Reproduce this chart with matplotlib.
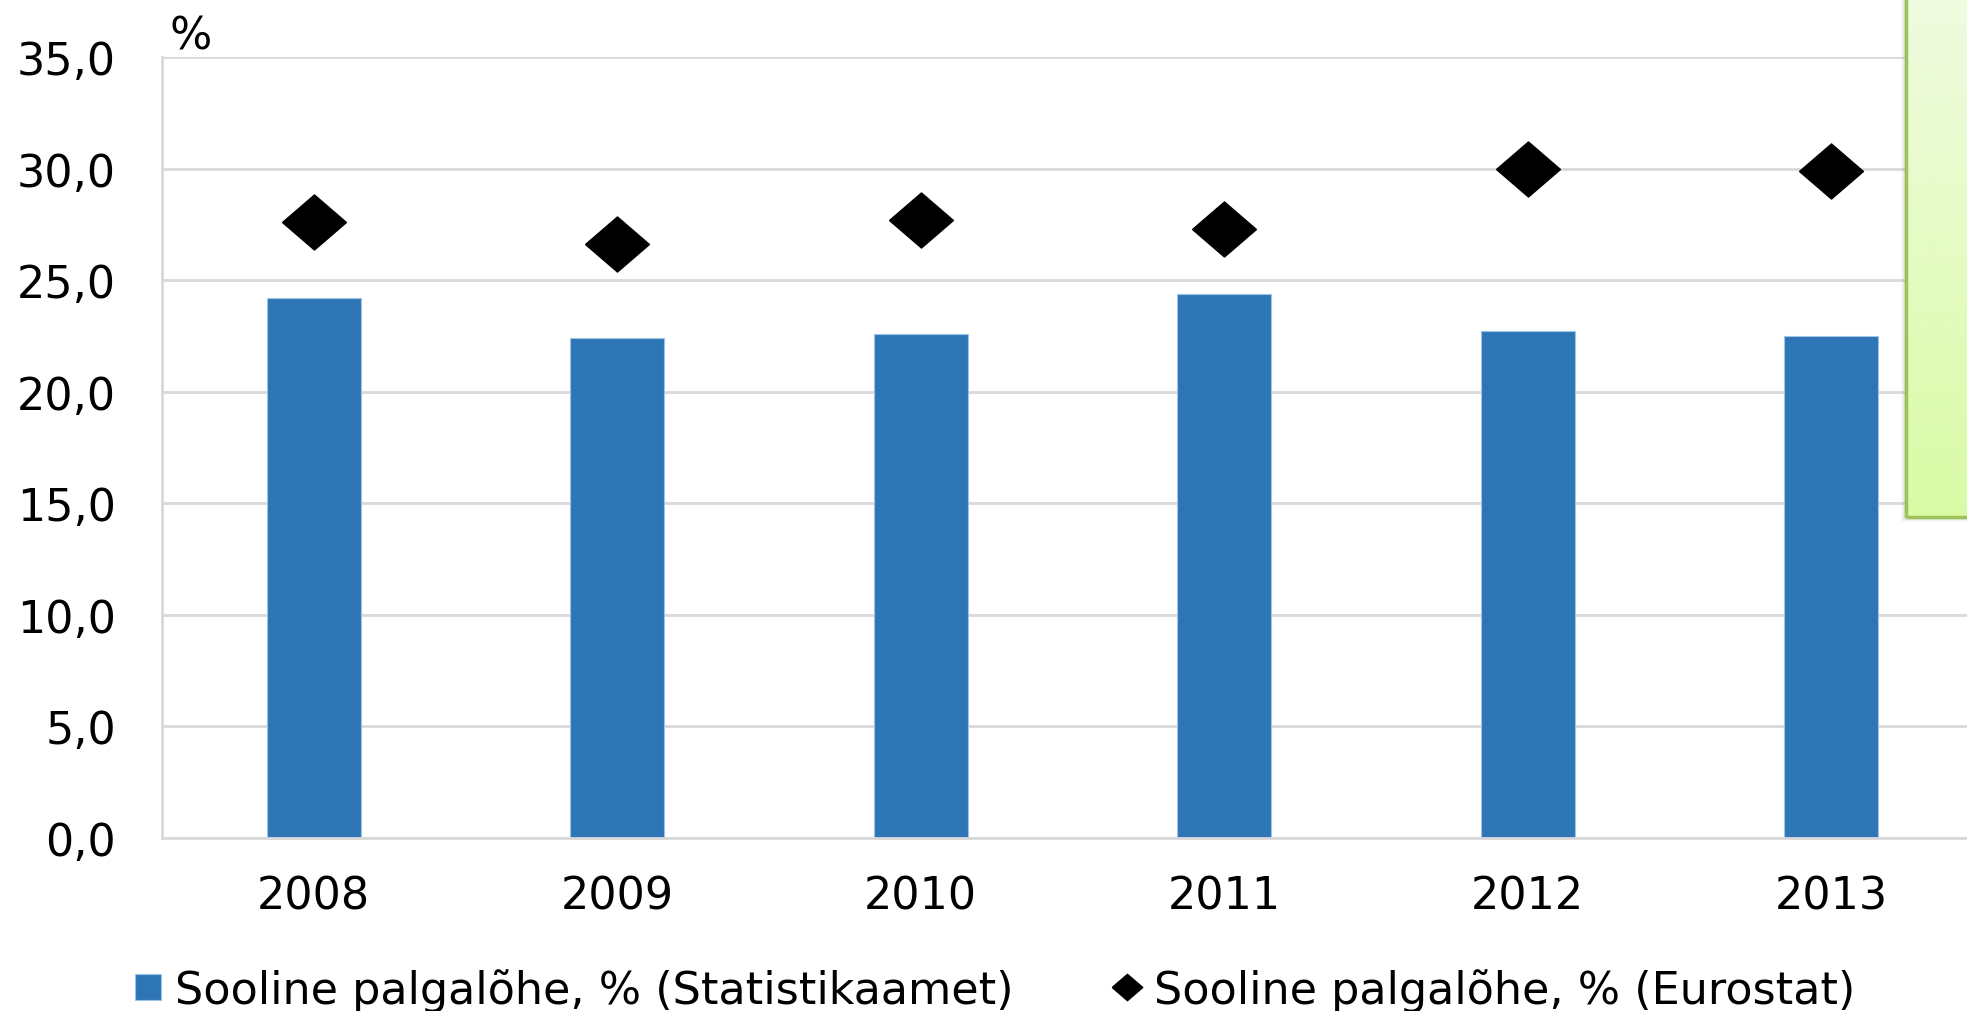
import numpy as np
import matplotlib.pyplot as plt
from matplotlib.lines import Line2D
from matplotlib.patches import Patch, Rectangle
from matplotlib.colors import LinearSegmentedColormap

# Data
years = ['2008', '2009', '2010', '2011', '2012', '2013']
statistikaamet = [24.2, 22.4, 22.6, 24.4, 22.7, 22.5]
eurostat = [27.6, 26.6, 27.7, 27.3, 30.0, 29.9]
y_ticks = [0, 5, 10, 15, 20, 25, 30, 35]

label_bar = 'Sooline palgalõhe, % (Statistikaamet)'
label_dot = 'Sooline palgalõhe, % (Eurostat)'

W, H = 1967, 1012
BLUE = '#2e75b6'
GRID = '#d9d9d9'
FS = 32

plt.rcParams['font.family'] = ['DejaVu Sans']

fig = plt.figure(figsize=(W / 100, H / 100), dpi=100)
fig.patch.set_facecolor('white')

# plot area, runs past the right edge of the picture like the original
left, right, top, bottom = 162, 1983, 58, 839
ax = fig.add_axes([left / W, (H - bottom) / H, (right - left) / W, (bottom - top) / H])

x = np.arange(len(years))
ax.bar(x, statistikaamet, width=0.31, color=BLUE, edgecolor='#9dc3e6', linewidth=0.8, zorder=2)

# diamond a bit wider than tall
diamond = [(-1.16, 0), (0, 1), (1.16, 0), (0, -1), (-1.16, 0)]
ax.plot(x, eurostat, linestyle='none', marker=diamond, markersize=46, color='black', zorder=3)

ax.set_xlim(-0.5, len(years) - 0.5)
ax.set_ylim(0, 35)
ax.set_yticks(y_ticks)
ax.set_yticklabels([f'{v:.1f}'.replace('.', ',') for v in y_ticks])
ax.set_xticks(x)
ax.set_xticklabels(years)
ax.tick_params(axis='y', length=0, pad=33, labelsize=FS, labelcolor='black')
ax.tick_params(axis='x', length=0, pad=26, labelsize=FS, labelcolor='black')

ax.set_axisbelow(True)
ax.grid(axis='y', color=GRID, linewidth=2)
for side in ['top', 'right']:
    ax.spines[side].set_visible(False)
for side in ['left', 'bottom']:
    ax.spines[side].set_color(GRID)
    ax.spines[side].set_linewidth(2)

fig.text(169 / W, (H - 50) / H, '%', fontsize=FS, va='baseline', ha='left')

# legend
handles = [
    Line2D([], [], linestyle='none', marker='s', markersize=18.5, color=BLUE,
           markeredgecolor='#9dc3e6', markeredgewidth=0.8),
    Line2D([], [], linestyle='none', marker=diamond, markersize=22, color='black'),
]
fig.legend(handles, [label_bar, label_dot], loc='center left',
           bbox_to_anchor=(132 / W, (H - 991) / H), ncol=2, frameon=False,
           fontsize=FS, handlelength=0.7, handletextpad=0.26, columnspacing=2.2,
           borderpad=0, borderaxespad=0)

# green note box cut off at the right edge
bx, by = 1906, 518
shadow_col = '#808080'
for i, a in enumerate([0.10, 0.08, 0.06, 0.04]):
    off = i + 2
    fig.patches.append(Rectangle(((bx - off) / W, (H - by - off) / H), 0.2, 1.2,
                                 transform=fig.transFigure, facecolor=shadow_col,
                                 edgecolor='none', alpha=a, zorder=1))
box_ax = fig.add_axes([bx / W, (H - by) / H, 0.1, by / H + 0.02], zorder=2)
green = LinearSegmentedColormap.from_list('g', ['#d9fba5', '#f0fbe2'])
box_ax.imshow(np.linspace(0, 1, 256).reshape(-1, 1), cmap=green, aspect='auto',
              origin='lower', extent=[0, 1, 0, 1])
box_ax.axis('off')
fig.patches.append(Rectangle((bx / W, (H - by) / H), 0.2, 1.2, transform=fig.transFigure,
                             facecolor='none', edgecolor='#9bc35a', linewidth=2.5, zorder=3))

fig.savefig('out.png', dpi=100)
